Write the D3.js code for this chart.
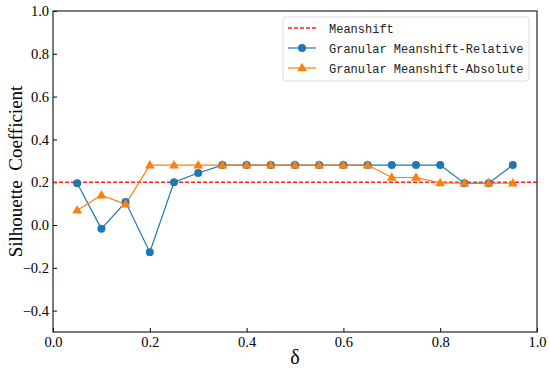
<!DOCTYPE html>
<html>
<head>
<meta charset="utf-8">
<script src="https://d3js.org/d3.v7.min.js"></script>
<style>
body { margin: 0; background: #fff; }
.tick text { font-family: "Liberation Serif", "Times New Roman", serif; font-size: 14.5px; fill: #000; }
.legend text { font-family: "Liberation Mono", "DejaVu Sans Mono", monospace; font-size: 12px; fill: #222; }
</style>
</head>
<body>
<svg width="550" height="370"></svg>
<script>
// delta values
var deltas = [0.05, 0.1, 0.15, 0.2, 0.25, 0.3, 0.35, 0.4, 0.45, 0.5, 0.55, 0.6, 0.65, 0.7, 0.75, 0.8, 0.85, 0.9, 0.95];
var relative = [0.195, -0.018, 0.107, -0.127, 0.2, 0.243, 0.28, 0.28, 0.28, 0.28, 0.28, 0.28, 0.28, 0.28, 0.28, 0.28, 0.195, 0.195, 0.28];
var absolute = [0.069, 0.139, 0.097, 0.28, 0.28, 0.28, 0.28, 0.28, 0.28, 0.28, 0.28, 0.28, 0.28, 0.222, 0.222, 0.197, 0.195, 0.195, 0.195];
var meanshift = 0.2;
var xTicks = [0, 0.2, 0.4, 0.6, 0.8, 1.0];
var yTicks = [-0.4, -0.2, 0, 0.2, 0.4, 0.6, 0.8, 1.0];
var legendLabels = ["Meanshift", "Granular Meanshift-Relative", "Granular Meanshift-Absolute"];

var svg = d3.select("svg");
var plotL = 53, plotR = 537, plotT = 11, plotB = 332;

var x = d3.scaleLinear().domain([0, 1]).range([plotL, plotR]);
var y = d3.scaleLinear().domain([-0.5, 1]).range([plotB, plotT]);

var blue = "#1f77b4", orange = "#ff7f0e";

// axes, ticks pointing in
svg.append("g")
    .attr("transform", "translate(0," + plotB + ")")
    .call(d3.axisBottom(x).tickValues(xTicks).tickFormat(d3.format(".1f")).tickSizeInner(-4).tickSizeOuter(0).tickPadding(5))
    .call(function(g) { g.select(".domain").remove(); g.selectAll("line").attr("stroke", "#000"); });
svg.append("g")
    .attr("transform", "translate(" + plotL + ",0)")
    .call(d3.axisLeft(y).tickValues(yTicks).tickFormat(d3.format(".1f")).tickSizeInner(-4).tickSizeOuter(0).tickPadding(4))
    .call(function(g) { g.select(".domain").remove(); g.selectAll("line").attr("stroke", "#000"); });

// meanshift baseline
svg.append("line")
    .attr("x1", plotL).attr("x2", plotR)
    .attr("y1", y(meanshift)).attr("y2", y(meanshift))
    .attr("stroke", "#ff2020").attr("stroke-width", 1.4)
    .attr("stroke-dasharray", "4,2");

var line = d3.line().x(function(d) { return x(d[0]); }).y(function(d) { return y(d[1]); });
var relData = d3.zip(deltas, relative);
var absData = d3.zip(deltas, absolute);

svg.append("path").datum(relData).attr("d", line)
    .attr("fill", "none").attr("stroke", blue).attr("stroke-width", 1.2);
svg.append("path").datum(absData).attr("d", line)
    .attr("fill", "none").attr("stroke", orange).attr("stroke-width", 1.2);

svg.selectAll(".relpt").data(relData).enter().append("circle")
    .attr("cx", function(d) { return x(d[0]); })
    .attr("cy", function(d) { return y(d[1]); })
    .attr("r", 4).attr("fill", blue);

var tri = d3.symbol().type(d3.symbolTriangle).size(42);
svg.selectAll(".abspt").data(absData).enter().append("path")
    .attr("d", tri)
    .attr("transform", function(d) { return "translate(" + x(d[0]) + "," + (y(d[1]) + 0.5) + ")"; })
    .attr("fill", orange);

// frame
svg.append("rect")
    .attr("x", plotL).attr("y", plotT)
    .attr("width", plotR - plotL).attr("height", plotB - plotT)
    .attr("fill", "none").attr("stroke", "#222").attr("stroke-width", 1.2);

// legend
var lg = svg.append("g").attr("class", "legend");
lg.append("rect")
    .attr("x", 283).attr("y", 17).attr("width", 246).attr("height", 64)
    .attr("rx", 3).attr("fill", "#fff").attr("fill-opacity", 0.8)
    .attr("stroke", "#ddd");
var rows = [28, 48, 68];
lg.append("line").attr("x1", 288).attr("x2", 316).attr("y1", rows[0]).attr("y2", rows[0])
    .attr("stroke", "#ff2020").attr("stroke-width", 1.4).attr("stroke-dasharray", "4,2");
lg.append("line").attr("x1", 288).attr("x2", 316).attr("y1", rows[1]).attr("y2", rows[1])
    .attr("stroke", blue).attr("stroke-width", 1.2);
lg.append("circle").attr("cx", 302).attr("cy", rows[1]).attr("r", 4).attr("fill", blue);
lg.append("line").attr("x1", 288).attr("x2", 316).attr("y1", rows[2]).attr("y2", rows[2])
    .attr("stroke", orange).attr("stroke-width", 1.2);
lg.append("path").attr("d", tri).attr("transform", "translate(302," + (rows[2] + 0.5) + ")").attr("fill", orange);
lg.selectAll("text.lab").data(legendLabels).enter().append("text")
    .attr("x", 329).attr("y", function(d, i) { return rows[i] + 5; })
    .text(function(d) { return d; });

// axis titles
svg.append("text")
    .attr("transform", "translate(22," + ((plotT + plotB) / 2) + ") rotate(-90)")
    .attr("text-anchor", "middle")
    .style("font-family", "'Liberation Serif', serif").style("font-size", "19px")
    .style("white-space", "pre")
    .text("Silhouette  Coefficient");
svg.append("text")
    .attr("x", (plotL + plotR) / 2).attr("y", 364)
    .attr("text-anchor", "middle")
    .style("font-family", "'Liberation Serif', serif").style("font-size", "20px")
    .text("δ");
</script>
</body>
</html>
